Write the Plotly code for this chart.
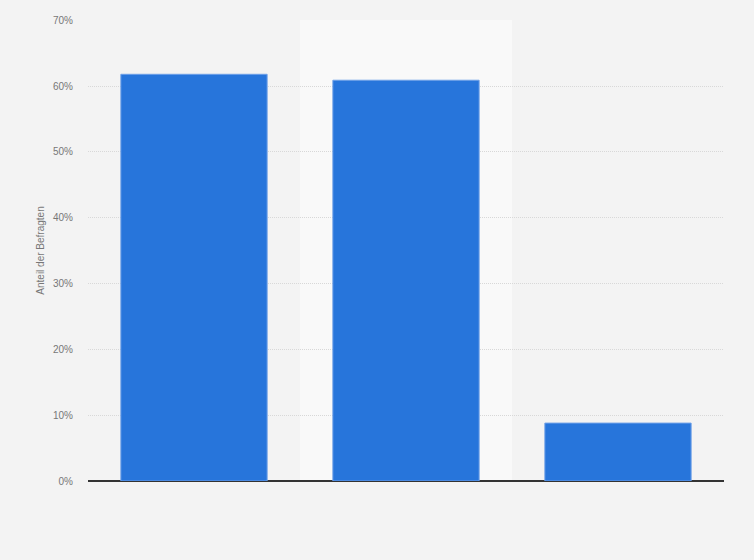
import plotly.graph_objects as go

categories = ["Kategorie 1", "Kategorie 2", "Kategorie 3"]
values = [61.8, 60.9, 8.8]
y_ticks = [0, 10, 20, 30, 40, 50, 60, 70]
y_tick_labels = [f"{v}%" for v in y_ticks]

fig = go.Figure()

fig.add_trace(go.Bar(
    x=categories,
    y=values,
    width=0.69,
    marker=dict(color="#2775db", line=dict(color="#6ea0e8", width=1)),
    hovertemplate="%{y}%<extra></extra>",
))

# hover highlight behind the middle category
fig.add_shape(
    type="rect", xref="x", yref="paper",
    x0=0.5, x1=1.5, y0=0, y1=1,
    fillcolor="#f9f9f9", line_width=0, layer="below",
)

fig.update_layout(
    width=754, height=560,
    paper_bgcolor="#f3f3f3",
    plot_bgcolor="#f3f3f3",
    margin=dict(l=88, r=30, t=20, b=79),
    font=dict(family="Arial, Liberation Sans, sans-serif", size=10, color="#777777"),
    showlegend=False,
)

fig.update_xaxes(
    showticklabels=False,
    showgrid=False,
    showline=False,
    zeroline=False,
    range=[-0.5, 2.5],
)

fig.update_yaxes(
    range=[0, 70.05],
    tickmode="array",
    tickvals=y_ticks,
    ticktext=y_tick_labels,
    showgrid=True,
    gridcolor="#d8d8d8",
    griddash="1px,1px",
    gridwidth=1,
    zeroline=True,
    zerolinecolor="#333333",
    zerolinewidth=1.5,
    ticks="",
    ticklabelstandoff=14,
    title=dict(text="Anteil der Befragten", font=dict(size=10, color="#777777"), standoff=6),
)

fig.write_html(
    "out.html",
    config={"displayModeBar": False},
    post_script="document.body.style.margin='0';document.body.style.background='#f3f3f3';",
)
